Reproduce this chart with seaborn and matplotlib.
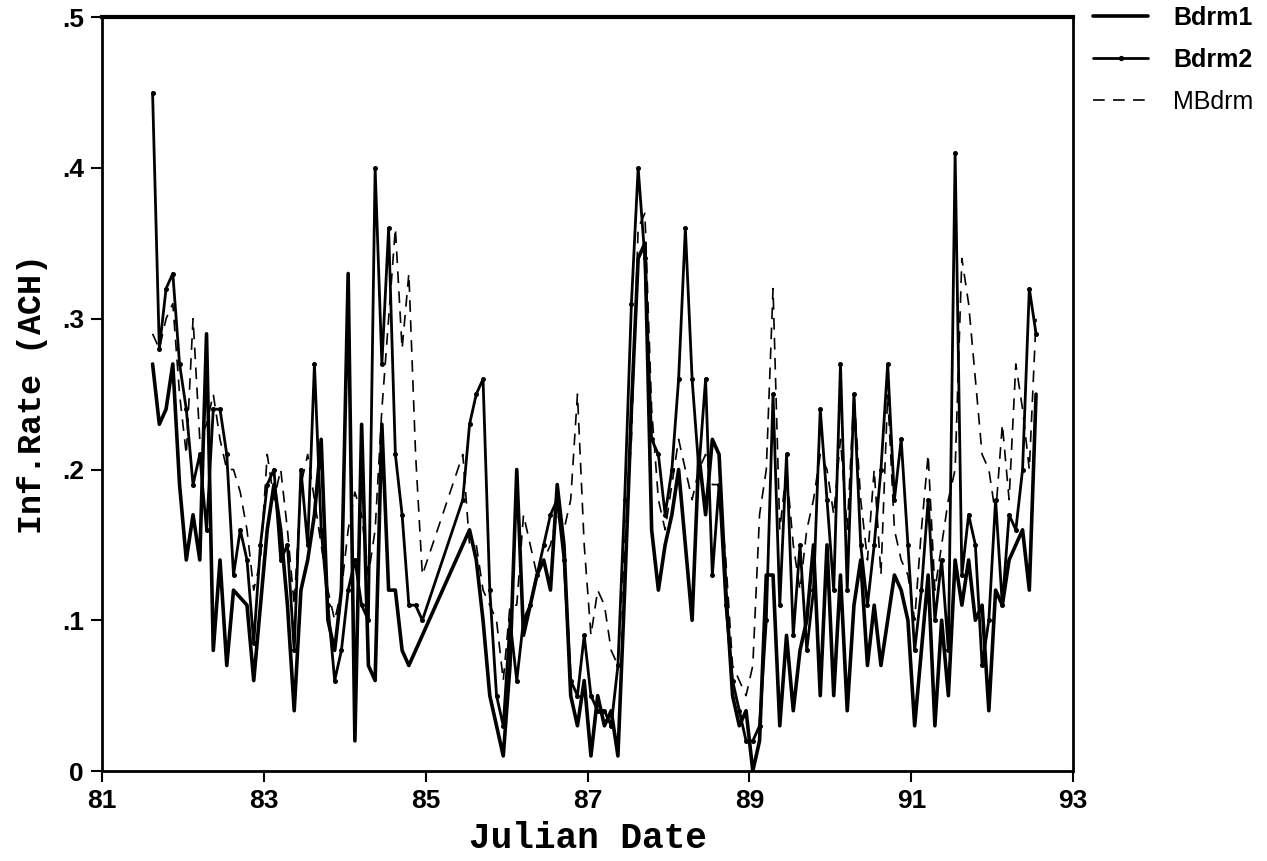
import numpy as np
import pandas as pd
import matplotlib
matplotlib.use("Agg")
import matplotlib.pyplot as plt
import seaborn as sns
from matplotlib.ticker import FuncFormatter, MultipleLocator
from matplotlib.lines import Line2D

# readings every 2 h from day 81.625 (None = no data, line bridges the gap)
START_DAY = 81.625
STEP = 1 / 12

bdrm1 = [
    0.27, 0.23, 0.24, 0.27, 0.19, 0.14, 0.17, 0.14, 0.29, 0.08,
    0.14, 0.07, 0.12, 0.115, 0.11, 0.06, 0.11, 0.16, 0.19, 0.16,
    0.11, 0.04, 0.12, 0.14, 0.17, 0.22, 0.10, 0.08, 0.12, 0.33,
    0.02, 0.23, 0.07, 0.06, 0.23, 0.12, 0.12, 0.08, 0.07, 0.08,
    0.09, None, None, None, None, None, 0.15, 0.16, 0.14, 0.10,
    0.05, 0.03, 0.01, 0.07, 0.20, 0.09, 0.11, 0.13, 0.14, 0.12,
    0.19, 0.15, 0.05, 0.03, 0.06, 0.01, 0.05, 0.03, 0.04, 0.01,
    0.12, 0.24, 0.34, 0.35, 0.16, 0.12, 0.15, 0.17, 0.20, 0.15,
    0.10, 0.21, 0.17, 0.22, 0.21, 0.12, 0.05, 0.03, 0.04, 0.00,
    0.02, 0.13, 0.13, 0.03, 0.09, 0.04, 0.08, 0.10, 0.15, 0.05,
    0.15, 0.05, 0.13, 0.04, 0.11, 0.14, 0.07, 0.11, 0.07, 0.10,
    0.13, 0.12, 0.10, 0.03, 0.08, 0.13, 0.03, 0.10, 0.05, 0.14,
    0.11, 0.14, 0.10, 0.11, 0.04, 0.12, 0.11, 0.14, 0.15, 0.16,
    0.12, 0.25,
]
bdrm2 = [
    0.45, 0.28, 0.32, 0.33, 0.27, 0.24, 0.19, 0.21, 0.16, 0.24,
    0.24, 0.21, 0.13, 0.16, 0.14, 0.085, 0.15, 0.19, 0.20, 0.14,
    0.15, 0.08, 0.20, 0.15, 0.27, 0.16, 0.11, 0.06, 0.08, 0.12,
    0.14, 0.11, 0.10, 0.40, 0.27, 0.36, 0.21, 0.17, 0.11, 0.11,
    0.10, None, None, None, None, None, 0.18, 0.23, 0.25, 0.26,
    0.12, 0.05, 0.03, 0.10, 0.06, 0.10, 0.11, 0.13, 0.15, 0.17,
    0.18, 0.14, 0.06, 0.05, 0.09, 0.05, 0.04, 0.04, 0.03, 0.07,
    0.18, 0.31, 0.40, 0.34, 0.22, 0.21, 0.17, 0.20, 0.26, 0.36,
    0.26, 0.20, 0.26, 0.13, 0.19, 0.11, 0.06, 0.04, 0.02, 0.02,
    0.03, 0.10, 0.25, 0.11, 0.21, 0.09, 0.15, 0.08, 0.12, 0.24,
    0.18, 0.12, 0.27, 0.12, 0.25, 0.15, 0.11, 0.15, 0.20, 0.27,
    0.18, 0.22, 0.15, 0.08, 0.12, 0.18, 0.10, 0.14, 0.08, 0.41,
    0.13, 0.17, 0.15, 0.07, 0.10, 0.18, 0.11, 0.17, 0.16, 0.20,
    0.32, 0.29,
]
mbdrm = [
    0.29, 0.28, 0.30, 0.31, 0.25, 0.21, 0.30, 0.22, 0.23, 0.25,
    0.22, 0.20, 0.20, 0.185, 0.16, 0.12, 0.14, 0.21, 0.18, 0.20,
    0.16, 0.11, 0.19, 0.21, 0.18, 0.15, 0.12, 0.10, 0.12, 0.16,
    0.185, 0.17, 0.13, 0.16, 0.24, 0.30, 0.36, 0.28, 0.33, 0.21,
    0.13, None, None, None, None, None, 0.21, 0.15, 0.15, 0.12,
    0.11, 0.10, 0.06, 0.11, 0.11, 0.17, 0.15, 0.13, 0.14, 0.15,
    0.17, 0.16, 0.18, 0.25, 0.15, 0.09, 0.12, 0.11, 0.08, 0.07,
    0.15, 0.22, 0.36, 0.37, 0.24, 0.18, 0.16, 0.19, 0.22, 0.20,
    0.18, 0.20, 0.21, 0.19, 0.19, 0.14, 0.07, 0.06, 0.05, 0.07,
    0.17, 0.20, 0.32, 0.16, 0.20, 0.15, 0.12, 0.16, 0.18, 0.21,
    0.20, 0.17, 0.22, 0.16, 0.25, 0.18, 0.14, 0.20, 0.13, 0.25,
    0.16, 0.14, 0.13, 0.10, 0.16, 0.21, 0.12, 0.15, 0.18, 0.20,
    0.34, 0.31, 0.26, 0.21, 0.20, 0.17, 0.23, 0.18, 0.27, 0.24,
    0.20, 0.30,
]

SERIES = ["Bdrm1", "Bdrm2", "MBdrm"]
X_TICKS = [81, 83, 85, 87, 89, 91, 93]

frames = []
for name, vals in zip(SERIES, [bdrm1, bdrm2, mbdrm]):
    frames.append(pd.DataFrame({
        "day": START_DAY + STEP * np.arange(len(vals)),
        "rate": pd.to_numeric(pd.Series(vals), errors="coerce"),
        "series": name,
    }))
df = pd.concat(frames, ignore_index=True).dropna()

sns.set_style("ticks")
plt.rcParams["font.family"] = ["Liberation Sans", "DejaVu Sans"]
for key in ["text.color", "axes.labelcolor", "xtick.color", "ytick.color"]:
    plt.rcParams[key] = "black"

fig = plt.figure(figsize=(12.67, 8.61), dpi=100)
ax = fig.add_axes([0.0805, 0.1045, 0.7665, 0.8755])

styles = {
    "Bdrm1": dict(linewidth=2.6, linestyle="-"),
    "Bdrm2": dict(linewidth=2.0, linestyle="-", marker="o", markersize=2.8,
                  markerfacecolor="black", markeredgecolor="black"),
    "MBdrm": dict(linewidth=1.2, linestyle=(0, (7, 5))),
}
for name in SERIES:
    sns.lineplot(data=df[df["series"] == name], x="day", y="rate",
                 color="black", ax=ax, estimator=None, sort=False,
                 legend=False, **styles[name])

ax.set_xlim(81, 93)
ax.set_ylim(0, 0.5)
ax.set_xticks(X_TICKS)
ax.yaxis.set_major_locator(MultipleLocator(0.1))
ax.yaxis.set_major_formatter(FuncFormatter(
    lambda v, _: "0" if abs(v) < 1e-9 else f"{v:.1f}".lstrip("0")))
ax.tick_params(direction="out", length=8, width=1.5, labelsize=19, pad=5,
               colors="black")
for lab in ax.get_xticklabels() + ax.get_yticklabels():
    lab.set_fontweight("bold")
for side in ["left", "right", "bottom"]:
    ax.spines[side].set_linewidth(2)
ax.spines["top"].set_linewidth(3)
for sp in ax.spines.values():
    sp.set_color("black")

ax.set_xlabel("Julian Date", fontfamily="Liberation Mono", fontweight="bold",
              fontsize=26, labelpad=6)
ax.set_ylabel("Inf.Rate (ACH)", fontfamily="Liberation Mono", fontweight="bold",
              fontsize=24, labelpad=10)

handles = [
    Line2D([], [], color="black", **styles["Bdrm1"]),
    Line2D([], [], color="black", **styles["Bdrm2"]),
    Line2D([], [], color="black", **styles["MBdrm"]),
]
leg = fig.legend(handles, SERIES, loc="upper left", bbox_to_anchor=(0.845, 1.019),
                 frameon=False, fontsize=18, handlelength=2.2, handletextpad=1.0,
                 labelspacing=0.72)
for i, t in enumerate(leg.get_texts()):
    t.set_fontweight("bold" if i < 2 else "normal")
    t.set_color("black")

fig.savefig("out.png", dpi=100)
